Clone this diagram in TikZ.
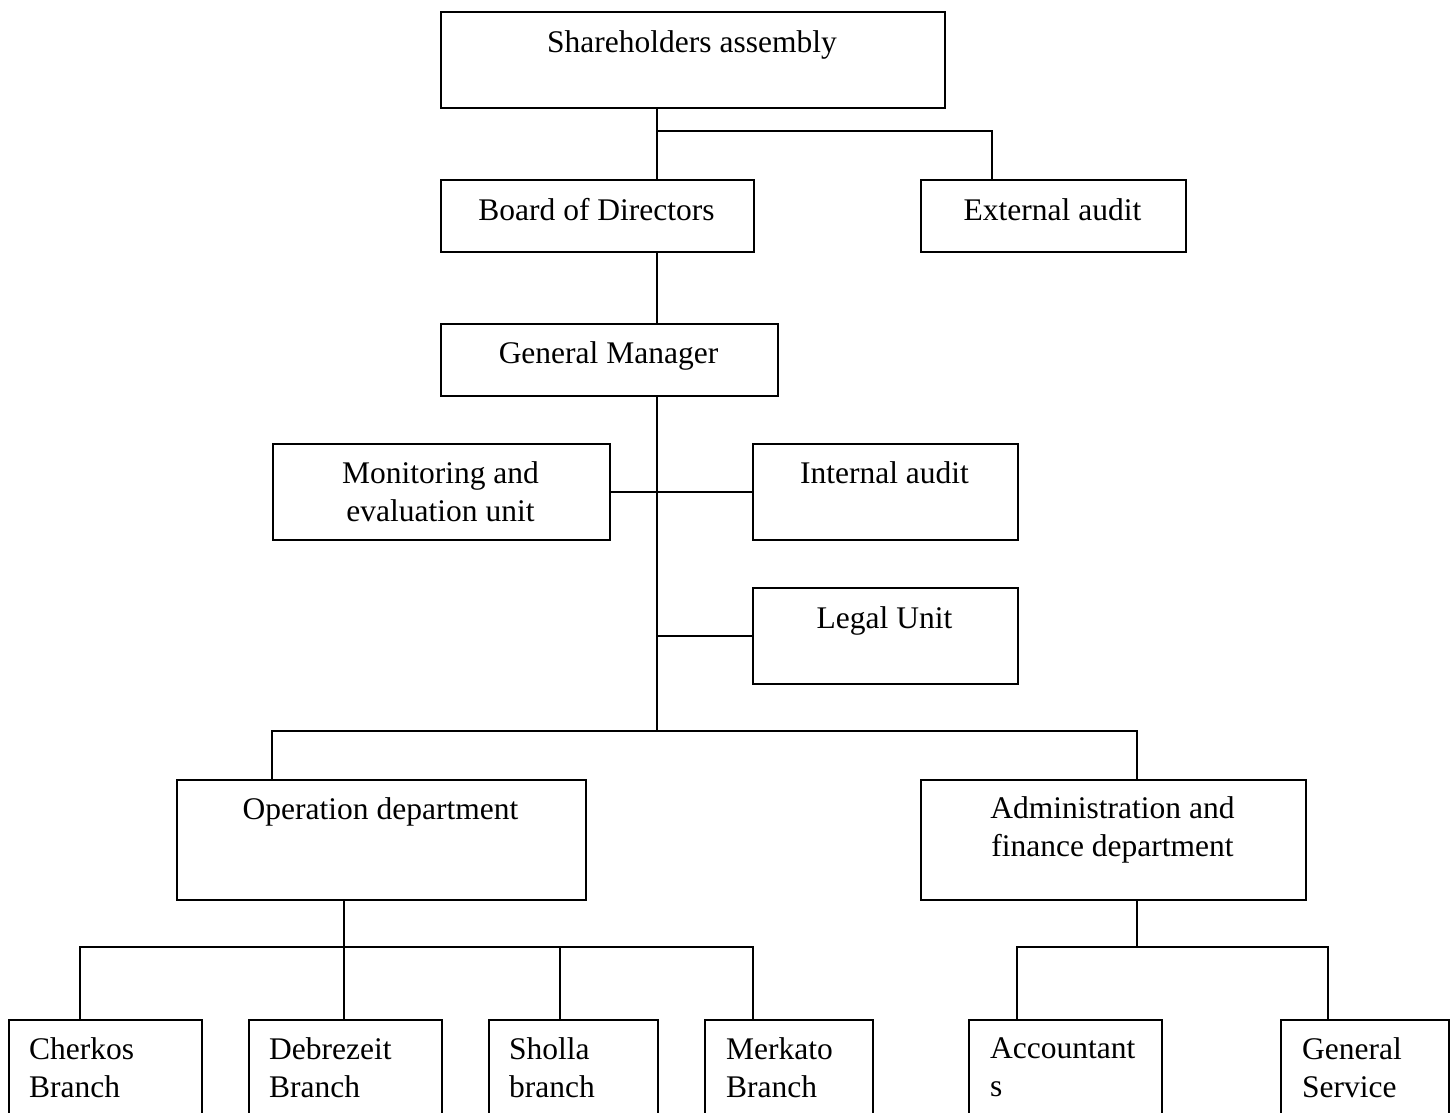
\documentclass[tikz,border=0pt]{standalone}
\usepackage{fontspec}
\setmainfont{Liberation Serif}
\begin{document}
\begin{tikzpicture}[x=1pt,y=-1pt,
  box/.style={draw, line width=1.5pt, rectangle, inner sep=0pt, anchor=north west},
  lbl/.style={inner sep=0pt, font=\fontsize{31.5}{37.5}\selectfont, align=center},
  lblL/.style={inner sep=0pt, font=\fontsize{31.5}{37.5}\selectfont, align=left, anchor=north west},
  con/.style={line width=1.5pt}]
\useasboundingbox (0,0) rectangle (1454,1112);
\clip (0,0) rectangle (1454,1112);
\fill[white] (0,0) rectangle (1454,1112);

% boxes
\node[box, minimum width=504, minimum height=96] (sa) at (440,11) {};
\node[box, minimum width=313, minimum height=72] (bod) at (440,179) {};
\node[box, minimum width=265, minimum height=72] (ext) at (920,179) {};
\node[box, minimum width=337, minimum height=72] (gm) at (440,323) {};
\node[box, minimum width=337, minimum height=96] (mon) at (272,443) {};
\node[box, minimum width=265, minimum height=96] (ia) at (752,443) {};
\node[box, minimum width=265, minimum height=96] (legal) at (752,587) {};
\node[box, minimum width=409, minimum height=120] (op) at (176,779) {};
\node[box, minimum width=385, minimum height=120] (adm) at (920,779) {};
\node[box, minimum width=193, minimum height=150] (b1) at (8,1019) {};
\node[box, minimum width=193, minimum height=150] (b2) at (248,1019) {};
\node[box, minimum width=169, minimum height=150] (b3) at (488,1019) {};
\node[box, minimum width=168, minimum height=150] (b4) at (704,1019) {};
\node[box, minimum width=193, minimum height=150] (b5) at (968,1019) {};
\node[box, minimum width=168, minimum height=150] (b6) at (1280,1019) {};

% labels
\node[lbl, anchor=base] (sa-t) at (692,52) {Shareholders assembly};
\node[lbl, anchor=base] (bod-t) at (596.5,220) {Board of Directors};
\node[lbl, anchor=base] (ext-t) at (1052.5,220) {External audit};
\node[lbl, anchor=base] (gm-t) at (608.5,363) {General Manager};
\node[lbl, anchor=north] (mon-t) at (440.5,461.5) {Monitoring and\\evaluation unit};
\node[lbl, anchor=base] (ia-t) at (884.5,483) {Internal audit};
\node[lbl, anchor=base] (legal-t) at (884.5,628) {Legal Unit};
\node[lbl, anchor=base] (op-t) at (380.5,819) {Operation department};
\node[lbl, anchor=north] (adm-t) at (1112.5,796.5) {Administration and\\finance department};
\node[lblL] (b1-t) at (29,1037.5) {Cherkos\\Branch};
\node[lblL] (b2-t) at (269,1037.5) {Debrezeit\\Branch};
\node[lblL] (b3-t) at (509,1037.5) {Sholla\\branch};
\node[lblL] (b4-t) at (726,1037.5) {Merkato\\Branch};
\node[lblL] (b5-t) at (990,1037.5) {Accountant\\s};
\node[lblL] (b6-t) at (1302,1037.5) {General\\Service};

% junction coordinates
\coordinate (spine) at (657,0);
\coordinate (top) at (657,131);
\coordinate (hub) at (657,731);
\coordinate (extx) at (992,0);
\coordinate (opx) at (272,0);
\coordinate (admx) at (1137,0);
\coordinate (opbar) at (344,947);
\coordinate (admbar) at (1137,947);
\coordinate (x1) at (80,0);
\coordinate (x2) at (344,0);
\coordinate (x3) at (560,0);
\coordinate (x4) at (753,0);
\coordinate (x5) at (1017,0);
\coordinate (x6) at (1328,0);

% connectors
\draw[con] (sa.south -| spine) -- (bod.north -| spine);
\draw[con] (top) -- (top -| extx) -- (ext.north -| extx);
\draw[con] (bod.south -| spine) -- (gm.north -| spine);
\draw[con] (gm.south -| spine) -- (hub);
\draw[con] (mon.east) -- (ia.west);
\draw[con] (spine |- legal.west) -- (legal.west);
\draw[con] (op.north -| opx) -- (hub -| opx) -- (hub -| admx) -- (adm.north -| admx);
\draw[con] (op.south -| opbar) -- (opbar);
\draw[con] (b1.north -| x1) -- (opbar -| x1) -- (opbar -| x4) -- (b4.north -| x4);
\draw[con] (opbar) -- (b2.north -| x2);
\draw[con] (opbar -| x3) -- (b3.north -| x3);
\draw[con] (adm.south -| admbar) -- (admbar);
\draw[con] (b5.north -| x5) -- (admbar -| x5) -- (admbar -| x6) -- (b6.north -| x6);
\end{tikzpicture}
\end{document}
